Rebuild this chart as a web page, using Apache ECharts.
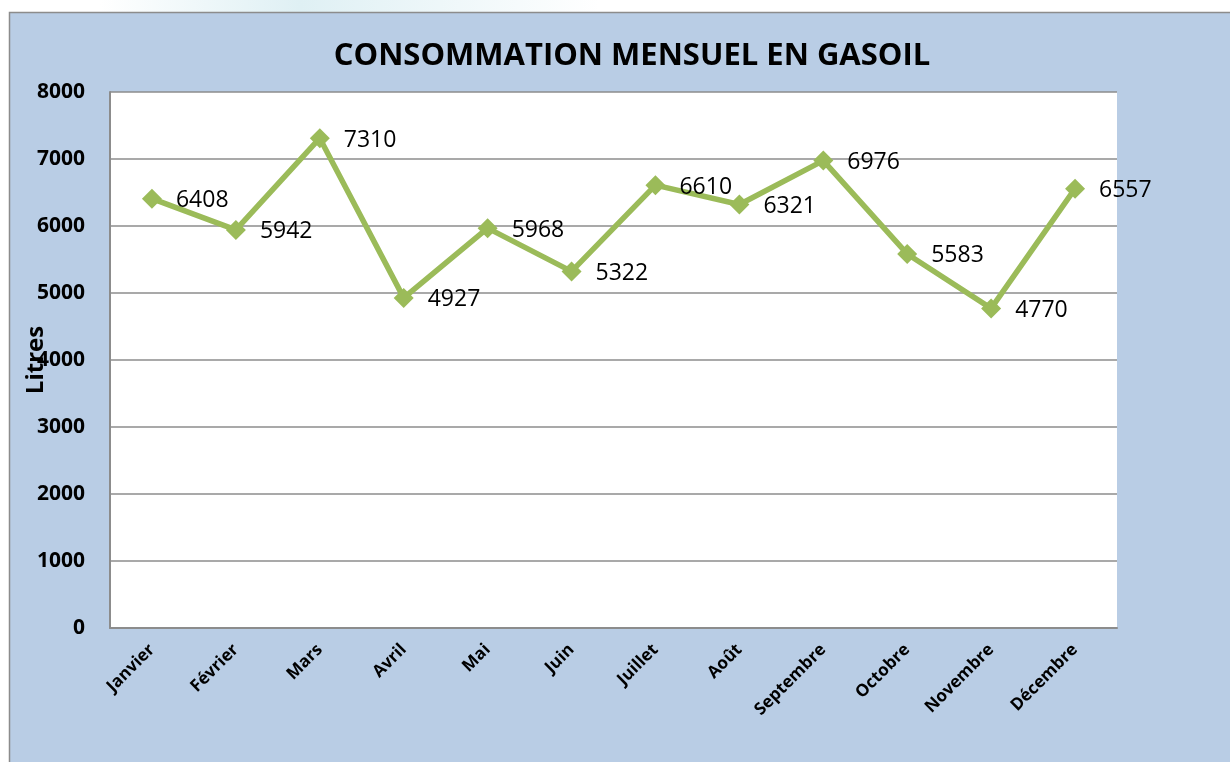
<!DOCTYPE html>
<html>
<head>
<meta charset="utf-8">
<script src="https://cdn.jsdelivr.net/npm/echarts@6/dist/echarts.min.js"></script>
<style>
  html, body { margin: 0; padding: 0; background: #ffffff; }
  #main { width: 1230px; height: 762px; }
</style>
</head>
<body>
<div id="main"></div>
<script>
// données
var mois = ["Janvier", "Février", "Mars", "Avril", "Mai", "Juin", "Juillet", "Août", "Septembre", "Octobre", "Novembre", "Décembre"];
var litres = [6408, 5942, 7310, 4927, 5968, 5322, 6610, 6321, 6976, 5583, 4770, 6557];
var titre = "CONSOMMATION MENSUEL EN GASOIL";
var nomAxe = "Litres";

var chart = echarts.init(document.getElementById("main"));

var option = {
  animation: false,
  textStyle: { fontFamily: "Open Sans" },
  graphic: [
    {
      // léger reflet au-dessus du cadre
      type: "rect",
      z: -20,
      shape: { x: 100, y: 0, width: 500, height: 14 },
      style: {
        fill: new echarts.graphic.LinearGradient(0, 0, 1, 0, [
          { offset: 0, color: "#ffffff" },
          { offset: 0.4, color: "#dff0f4" },
          { offset: 1, color: "#ffffff" }
        ])
      }
    },
    {
      type: "rect",
      z: -10,
      shape: { x: 9.5, y: 12.5, width: 1240, height: 760 },
      style: { fill: "#b9cde5", stroke: "#8c8c8c", lineWidth: 1.5 }
    }
  ],
  title: {
    text: titre,
    left: 627,
    textAlign: "center",
    top: 36,
    textStyle: { fontSize: 31, fontWeight: "bold", color: "#000", fontFamily: "Open Sans" }
  },
  grid: {
    left: 110,
    top: 92,
    right: 113,
    bottom: 134,
    outerBoundsMode: "none",
    containLabel: false,
    show: true,
    backgroundColor: "#ffffff",
    borderWidth: 0
  },
  xAxis: {
    type: "category",
    data: mois,
    boundaryGap: true,
    axisLine: { show: true, lineStyle: { color: "#8c8c8c", width: 2 } },
    axisTick: { show: false },
    axisLabel: {
      rotate: 45,
      margin: 19,
      interval: 0,
      color: "#000",
      fontSize: 17,
      fontWeight: "bold"
    }
  },
  yAxis: {
    type: "value",
    min: 0,
    max: 8000,
    interval: 1000,
    name: nomAxe,
    nameLocation: "middle",
    nameGap: 62,
    nameMoveOverlap: false,
    nameRotate: 90,
    nameTextStyle: { fontSize: 24, fontWeight: "bold", color: "#000" },
    axisLine: { show: true, lineStyle: { color: "#8c8c8c", width: 2 } },
    axisTick: { show: false },
    axisLabel: {
      color: "#000",
      fontSize: 21,
      fontWeight: "bold",
      margin: 25,
      formatter: function (v) { return String(v); }
    },
    splitLine: { show: true, lineStyle: { color: "#8c8c8c", width: 1.5 } }
  },
  series: [
    {
      type: "line",
      data: litres,
      symbol: "diamond",
      symbolSize: 20,
      lineStyle: { color: "#9bbb59", width: 5.5 },
      itemStyle: { color: "#9bbb59" },
      label: {
        show: true,
        position: "right",
        distance: 14,
        offset: [0, 2],
        color: "#000",
        fontSize: 23,
        fontFamily: "Open Sans"
      }
    }
  ]
};

chart.setOption(option);
</script>
</body>
</html>
